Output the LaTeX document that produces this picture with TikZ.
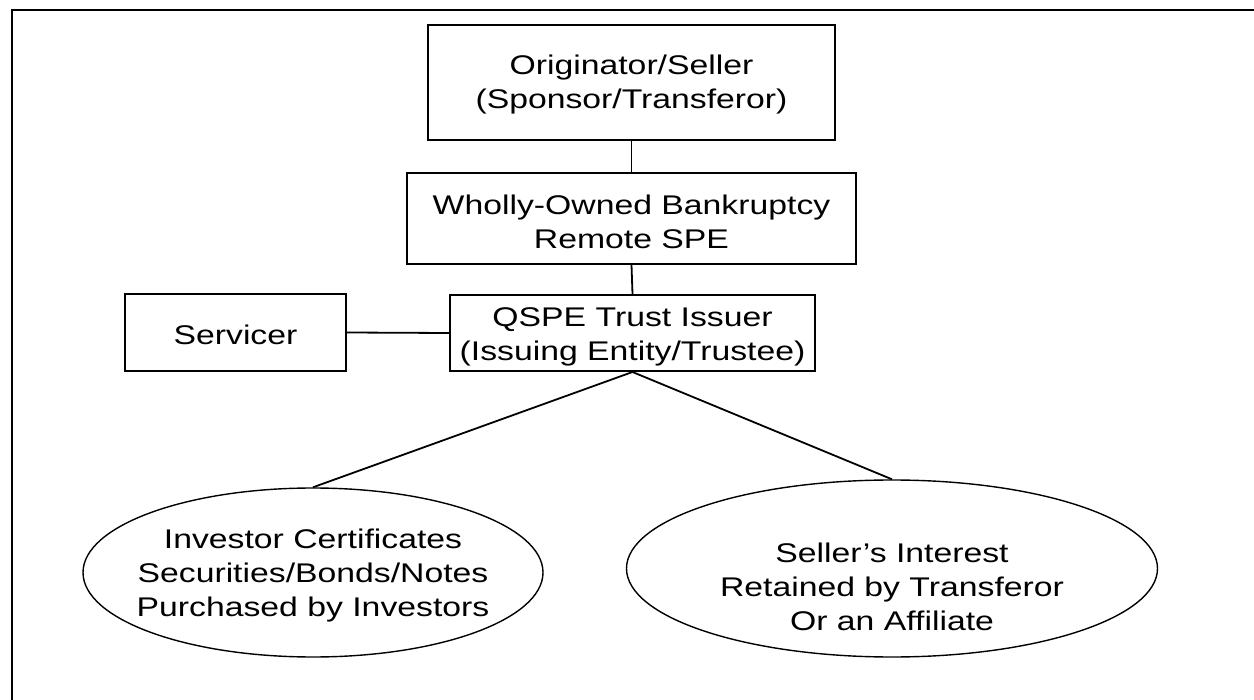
\documentclass[tikz,border=0pt]{standalone}
\usepackage{fontspec}
\setmainfont{Liberation Sans}[FakeStretch=1.25]
\usetikzlibrary{shapes.geometric}
\begin{document}
\begin{tikzpicture}[x=0.5pt,y=-0.5pt,
  boxnode/.style={draw=black, line width=1pt, rectangle, inner sep=0pt},
  ellnode/.style={draw=black, line width=0.7pt, ellipse, inner sep=0pt},
  txt/.style={align=center, font=\fontsize{13.5}{17}\selectfont, inner sep=0pt},
  conn/.style={draw=black, line width=0.9pt},
  framel/.style={draw=black, line width=1.2pt}]
\useasboundingbox (0,0) rectangle (1254,700);
\coordinate (ftr) at (1254,10);
\coordinate (ftl) at (12,10);
\coordinate (fbl) at (12,700);
\draw[framel] (ftr) -- (ftl) -- (fbl);

\node[boxnode, minimum width=203.5pt, minimum height=57.5pt] (orig) at (631.5,82.5) {};
\node[txt] (origt) at (631.5,85) {Originator/Seller\\(Sponsor/Transferor)};

\node[boxnode, minimum width=224.5pt, minimum height=45.5pt] (spv) at (631.5,218.5) {};
\node[txt] (spvt) at (631.5,222) {Wholly-Owned Bankruptcy\\Remote SPE};

\node[boxnode, minimum width=182.5pt, minimum height=38pt] (qspe) at (632.5,333) {};
\node[txt] (qspet) at (632.5,337) {QSPE Trust Issuer\\(Issuing Entity/Trustee)};

\node[boxnode, minimum width=110.5pt, minimum height=38.5pt] (serv) at (235.5,332.5) {};
\node[txt] (servt) at (235.5,335) {Servicer};

\node[ellnode, minimum width=230pt, minimum height=84.5pt] (inv) at (313,572.5) {};
\node[txt] (invt) at (313,576) {Investor Certificates\\Securities/Bonds/Notes\\Purchased by Investors};

\node[ellnode, minimum width=265.5pt, minimum height=88.5pt] (sel) at (892,568.5) {};
\node[txt] (selt) at (892,587) {Seller's Interest\\Retained by Transferor\\Or an Affiliate};

\draw[conn] (orig.south) -- (spv.north);
\draw[conn] (spv.south) -- (qspe.north);
\draw[conn] (serv.east) -- (qspe.west);
\draw[conn] (qspe.south) -- (inv.north);
\draw[conn] (qspe.south) -- (sel.north);
\end{tikzpicture}
\end{document}
